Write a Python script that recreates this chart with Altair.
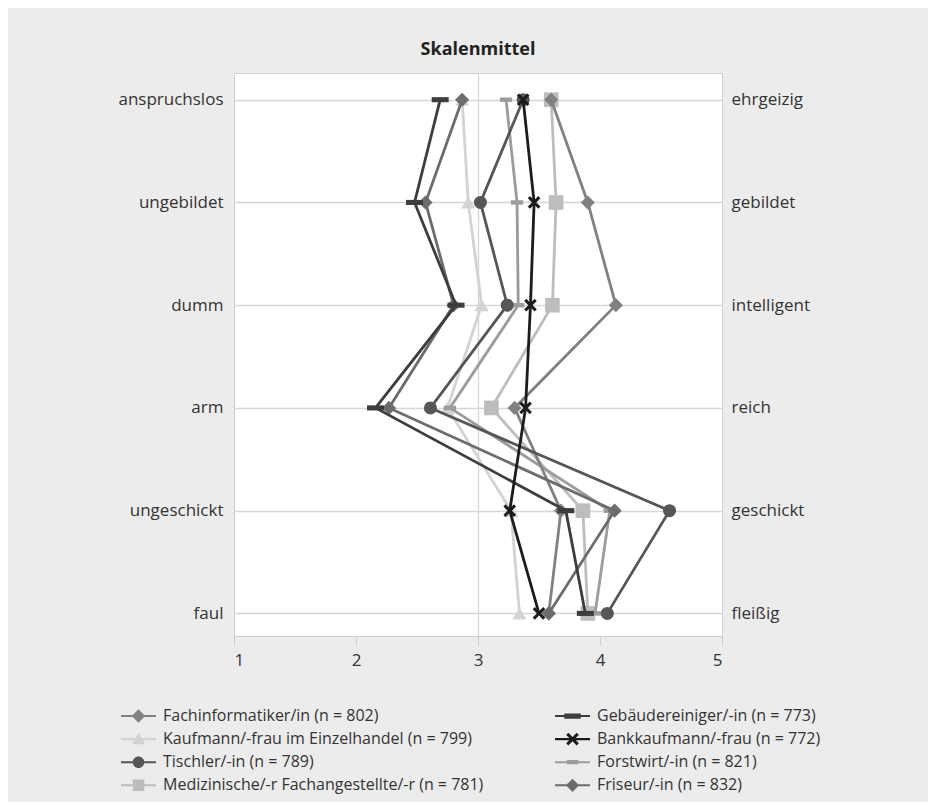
import json
import altair as alt
import pandas as pd

FONT = "Open Sans"

# ---- data -------------------------------------------------------------
left_labels = ["anspruchslos", "ungebildet", "dumm", "arm", "ungeschickt", "faul"]
right_labels = ["ehrgeizig", "gebildet", "intelligent", "reich", "geschickt", "fleißig"]
x_ticks = [1, 2, 3, 4, 5]

# legend order (column by column)
series_names = [
    "Fachinformatiker/in (n = 802)",
    "Kaufmann/-frau im Einzelhandel (n = 799)",
    "Tischler/-in (n = 789)",
    "Medizinische/-r Fachangestellte/-r (n = 781)",
    "Gebäudereiniger/-in (n = 773)",
    "Bankkaufmann/-frau (n = 772)",
    "Forstwirt/-in (n = 821)",
    "Friseur/-in (n = 832)",
]
fachinformatiker = [3.60, 3.90, 4.13, 3.30, 3.68, 3.58]
kaufmann = [2.87, 2.92, 3.03, 2.75, 3.27, 3.34]
tischler = [3.37, 3.02, 3.24, 2.61, 4.57, 4.06]
medizinische = [3.60, 3.64, 3.61, 3.11, 3.86, 3.90]
gebaeudereiniger = [2.69, 2.48, 2.82, 2.16, 3.72, 3.88]
bankkaufmann = [3.37, 3.46, 3.43, 3.39, 3.26, 3.50]
forstwirt = [3.23, 3.32, 3.33, 2.77, 4.08, 3.96]
friseur = [2.87, 2.57, 2.80, 2.27, 4.12, 3.58]

series_values = [fachinformatiker, kaufmann, tischler, medizinische,
                 gebaeudereiniger, bankkaufmann, forstwirt, friseur]

colors = ["#818181", "#d3d3d3", "#565656", "#bdbdbd",
          "#3d3d3d", "#1c1c1c", "#9c9c9c", "#6c6c6c"]

rows = []
for name, vals in zip(series_names, series_values):
    for i, v in enumerate(vals):
        rows.append({"series": name, "item": i, "value": v})
df = pd.DataFrame(rows)

# ---- styles -------------------------------------------------------------
def x_path(r, d):
    return (f"M{-r},{-r+d}L{-r+d},{-r}L0,{-d}L{r-d},{-r}L{r},{-r+d}L{d},0"
            f"L{r},{r-d}L{r-d},{r}L0,{d}L{-r+d},{r}L{-r},{r-d}L{-d},0Z")

def rect(w, h):
    return f"M{-w},{-h}H{w}V{h}H{-w}Z"

def diamond(r):
    return f"M0,{-r}L{r},0L0,{r}L{-r},0Z"

def circle(r):
    return f"M{-r},0A{r},{r} 0 1,1 {r},0A{r},{r} 0 1,1 {-r},0Z"

def triangle(w, top, bot):
    return f"M0,{-top}L{w},{bot}L{-w},{bot}Z"

plot_markers = [
    ("diamond", 200),
    ("triangle-up", 200),
    ("circle", 170),
    ("square", 215),
    (rect(1, 0.3), 289),
    (x_path(1, 0.34), 160),
    (rect(1, 0.36), 150),
    ("diamond", 200),
]

# legend symbols: 10 px per unit (symbolSize 400), 35 px wide line with marker
k = 1.75
LINE = rect(1.75, 0.06 * k)
legend_paths = [
    LINE + diamond(0.38 * k),
    LINE + triangle(0.38 * k, 0.36 * k, 0.3 * k),
    LINE + circle(0.33 * k),
    LINE + rect(0.33 * k, 0.33 * k),
    LINE + rect(0.47 * k, 0.15 * k),
    LINE + x_path(0.36 * k, 0.12 * k),
    LINE + rect(0.33 * k, 0.12 * k),
    LINE + diamond(0.38 * k),
]

# z-order of the series (bottom to top)
draw_order = [1, 3, 6, 0, 2, 7, 4, 5]

xscale = alt.Scale(domain=[1, 5], nice=False, zero=False)
yscale = alt.Scale(domain=[-0.26, 5.22], reverse=True, nice=False, zero=False)
cscale = alt.Scale(domain=series_names, range=colors)

left_expr = json.dumps(left_labels) + "[datum.value]"
right_expr = json.dumps(right_labels) + "[datum.value]"

x_axis = alt.Axis(values=x_ticks, format="d", domain=False, ticks=True, tickSize=9,
                  tickColor="#cdcdcd", labelFontSize=17, labelColor="#333333",
                  labelFont=FONT, labelPadding=7, grid=True,
                  gridColor={"condition": {"test": "datum.value === 3", "value": "#d6d6d6"},
                             "value": "rgba(0,0,0,0)"},
                  gridWidth=1.3)
left_axis = alt.Axis(values=list(range(len(left_labels))), labelExpr=left_expr, orient="left",
                     domain=False, ticks=False, labelPadding=11, labelFontSize=17,
                     labelColor="#333333", labelFont=FONT, grid=True, gridColor="#d6d6d6",
                     gridWidth=1.3)
right_axis = alt.Axis(values=list(range(len(right_labels))), labelExpr=right_expr, orient="right",
                      domain=False, ticks=False, labelPadding=9, labelFontSize=17,
                      labelColor="#333333", labelFont=FONT, grid=False)

legend_kw = dict(orient="none", legendX=-113, legendY=633, columns=2, columnPadding=71,
                 rowPadding=5.1, symbolSize=400, symbolOffset=7.5, symbolStrokeWidth=0,
                 symbolOpacity=1, labelFontSize=16, labelFont=FONT, labelColor="#333333",
                 labelLimit=0, labelOffset=14.5, title=None, padding=0)

X = alt.X("value:Q", scale=xscale, title=None, axis=x_axis)
Y = alt.Y("item:Q", scale=yscale, title=None, axis=left_axis)
C = alt.Color("series:N", scale=cscale, legend=alt.Legend(**legend_kw))

legend_layer = alt.Chart(df).transform_filter("false").mark_point(
    filled=True, opacity=1).encode(
    x=X, y=Y, color=C,
    shape=alt.Shape("series:N", scale=alt.Scale(domain=series_names, range=legend_paths),
                    legend=alt.Legend(**legend_kw)),
)

layers = [legend_layer]
for si in draw_order:
    name = series_names[si]
    base = alt.Chart(df).transform_filter(alt.datum.series == name)
    line = base.mark_line(strokeWidth=2.8).encode(
        x=X, y=Y, color=C, order=alt.Order("item:Q"))
    shape, size = plot_markers[si]
    pts = base.mark_point(filled=True, shape=shape, size=size, opacity=1, strokeWidth=0).encode(
        x=X, y=Y, color=C)
    layers += [line, pts]

inner = alt.layer(*layers)

right_layer = alt.Chart(df).transform_filter("false").mark_point().encode(
    x=X, y=alt.Y("item:Q", scale=yscale, title=None, axis=right_axis))

chart = alt.layer(inner, right_layer).resolve_axis(y="independent").properties(
    width=488, height=563,
    title=alt.TitleParams("Skalenmittel", fontSize=18, fontWeight="bold", font=FONT,
                          color="#222222", anchor="middle", frame="group", offset=14),
    background="#ececec",
    padding={"left": 226, "top": 65, "right": 206, "bottom": 166},
    autosize=alt.AutoSizeParams(type="none"),
).configure_view(fill="white", stroke="#cfcfcf", strokeWidth=1)

chart.save("out.html", embed_options={"renderer": "svg", "actions": False})
